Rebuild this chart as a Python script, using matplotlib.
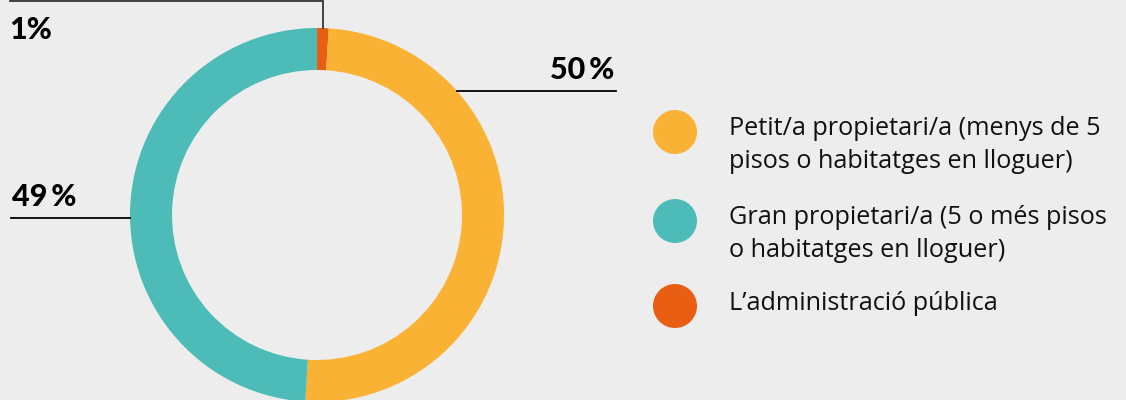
import numpy as np
import matplotlib.pyplot as plt

# ── data ──────────────────────────────────────────────────────────────
categories = [
    "Petit/a propietari/a (menys de 5\npisos o habitatges en lloguer)",
    "Gran propietari/a (5 o més pisos\no habitatges en lloguer)",
    "L\u2019administració pública",
]
values = [50, 49, 1]
pct_labels = ["50\u2009%", "49\u2009%", "1%"]
colors = ["#F9B233", "#4DBBB7", "#E85E13"]

BG = "#EDEDED"
plt.rcParams["font.family"] = ["Lato", "DejaVu Sans"]

fig = plt.figure(figsize=(11.26, 4), dpi=100, facecolor=BG)
ax = fig.add_axes([0, 0, 1, 1])
ax.set_facecolor(BG)

# donut: orange first at the top, then yellow, then teal, clockwise
cx, cy, R, W = 317, 185, 187, 42
order = [2, 0, 1]
ax.pie([values[i] for i in order], colors=[colors[i] for i in order],
       startangle=90, counterclock=False, center=(cx, cy), radius=R,
       wedgeprops=dict(width=W, linewidth=0), frame=True)
ax.set_xlim(0, 1126)
ax.set_ylim(0, 400)
ax.set_aspect("equal")
ax.axis("off")

lw = 1.3
pct_font = dict(fontsize=22, fontweight="black", family=["Lato", "DejaVu Sans"])

# 50 % label: horizontal leader to right side of the ring
y50 = 309
x50 = cx + np.sqrt(R**2 - (y50 - cy)**2)
ax.plot([x50, 616], [y50, y50], color="black", lw=lw)
ax.text(614, y50 + 7, pct_labels[0], ha="right", va="bottom", **pct_font)

# 49 % label: horizontal leader to left side
y49 = 182
x49 = cx - np.sqrt(R**2 - (y49 - cy)**2)
ax.plot([11, x49], [y49, y49], color="black", lw=lw)
ax.text(12, y49 + 7, pct_labels[1], ha="left", va="bottom", **pct_font)

# 1 % label: elbow leader to the top of the orange wedge
ang = np.deg2rad(90 - values[2] / sum(values) * 360 / 2)
xt = cx + R * np.cos(ang)
ax.plot([10, xt, xt], [399.3, 399.3, cy + R * np.sin(ang)],
        color="#333333", lw=lw, solid_joinstyle="miter")
ax.text(9, 370, pct_labels[2], ha="left", va="center", **pct_font)

# legend
leg_y = [268, 179, 94]
txt_y = [255, 166, 97]
for lab, col, yc, yt in zip(categories, colors, leg_y, txt_y):
    ax.add_patch(plt.Circle((675, yc), 22, color=col, lw=0))
    ax.text(729, yt, lab, ha="left", va="center", fontsize=18.2,
            family=["Open Sans", "DejaVu Sans"], color="#111111",
            linespacing=1.45)

fig.savefig("out.png", dpi=100, facecolor=BG)
